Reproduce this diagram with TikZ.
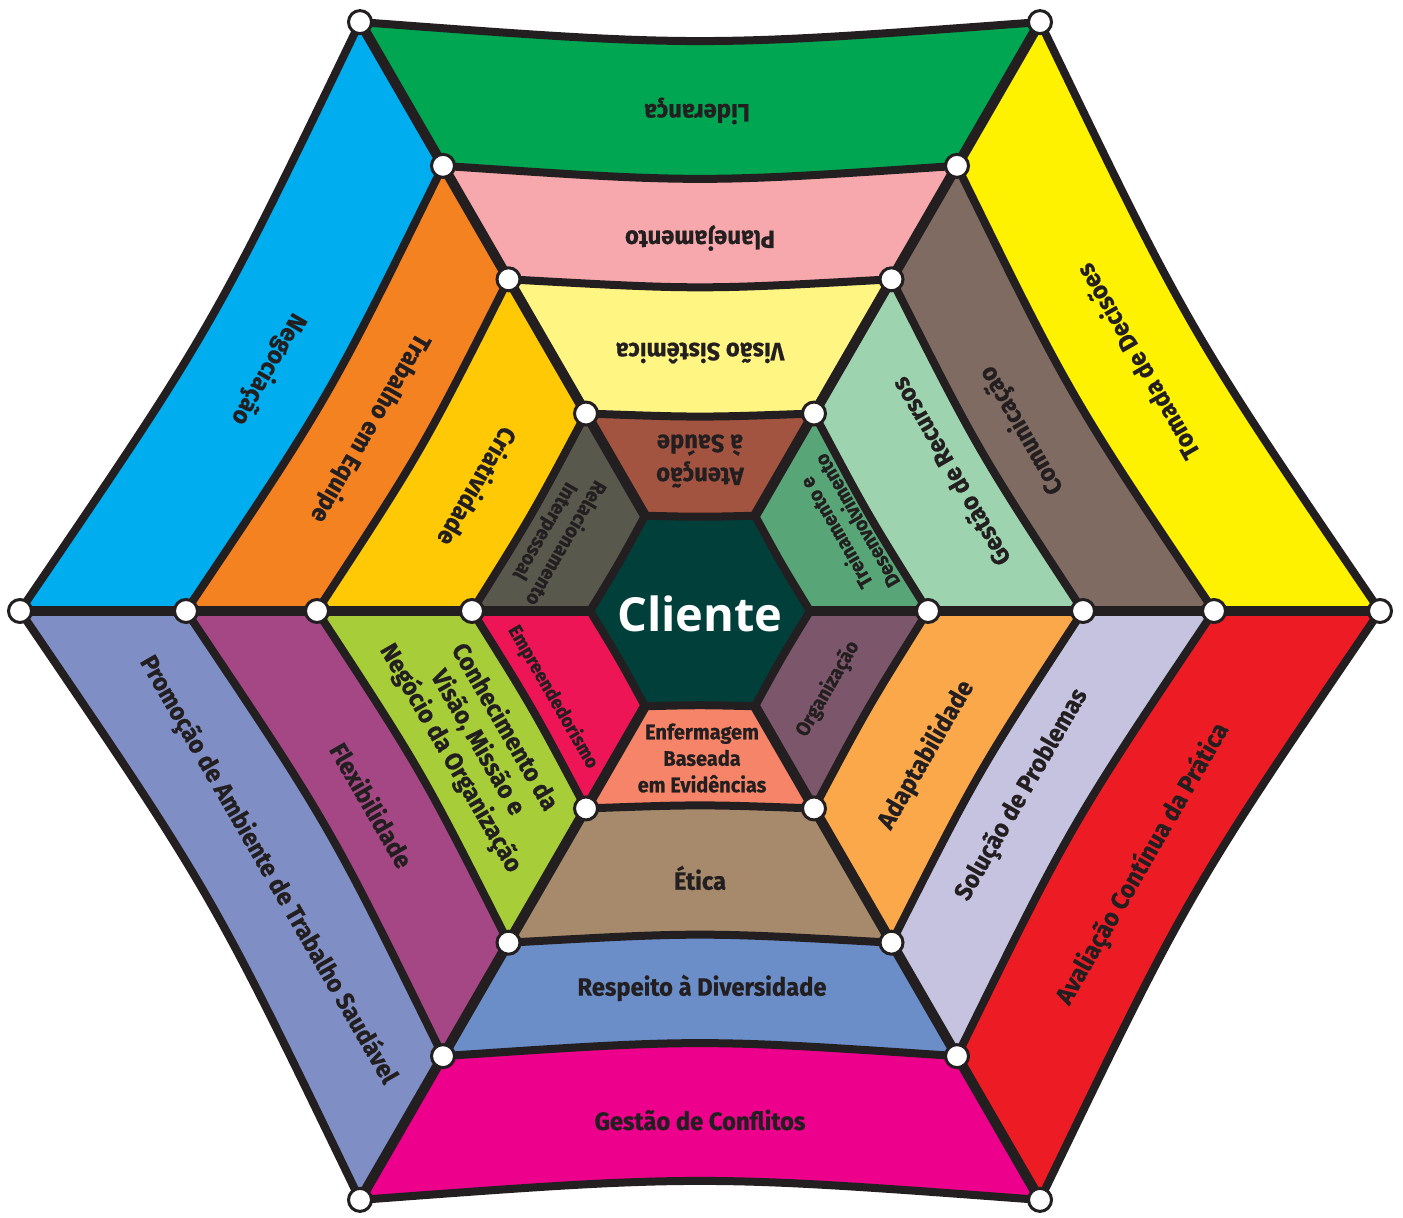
\documentclass[tikz,border=0pt]{standalone}
\usepackage{fontspec}
\setmainfont{Fira Sans}
\newfontfamily\labfont[FakeStretch=0.95,FakeBold=0.6]{Fira Sans}
\newfontfamily\clifont{Open Sans}
\usetikzlibrary{calc}
\definecolor{ink}{HTML}{231F20}
% ring 1 (inner)
\definecolor{col10}{HTML}{58A577}
\definecolor{col11}{HTML}{A35441}
\definecolor{col12}{HTML}{58584D}
\definecolor{col13}{HTML}{EE1556}
\definecolor{col14}{HTML}{F58468}
\definecolor{col15}{HTML}{7C566B}
% ring 2
\definecolor{col20}{HTML}{9DD3AF}
\definecolor{col21}{HTML}{FFF583}
\definecolor{col22}{HTML}{FFCA05}
\definecolor{col23}{HTML}{A7CE39}
\definecolor{col24}{HTML}{A78A6B}
\definecolor{col25}{HTML}{FBA84A}
% ring 3
\definecolor{col30}{HTML}{7F6B62}
\definecolor{col31}{HTML}{F6A8AC}
\definecolor{col32}{HTML}{F58220}
\definecolor{col33}{HTML}{A54785}
\definecolor{col34}{HTML}{6B8DC8}
\definecolor{col35}{HTML}{C6C3E1}
% ring 4 (outer)
\definecolor{col40}{HTML}{FFF200}
\definecolor{col41}{HTML}{00A651}
\definecolor{col42}{HTML}{00AEEF}
\definecolor{col43}{HTML}{7F8EC4}
\definecolor{col44}{HTML}{EC008C}
\definecolor{col45}{HTML}{ED1C24}
\definecolor{clicol}{HTML}{003F3A}
\begin{document}
\begin{tikzpicture}[x=1pt,y=1pt,
  edge/.style={draw=ink,line width=8pt,line join=round},
  spoke/.style={draw=ink,line width=10pt,line cap=round},
  vdot/.style={circle,fill=white,draw=ink,line width=3pt,minimum size=23pt,inner sep=0pt},
  lbl/.style={text=ink,font=\labfont\bfseries\fontsize{25}{31}\selectfont,align=center,inner sep=0pt},
  lblsmall/.style={text=ink,font=\labfont\bfseries\fontsize{20}{24}\selectfont,align=center,inner sep=0pt}]
\useasboundingbox (0,0) rectangle (1403,1218);
\fill[white] (0,0) rectangle (1403,1218);
\begin{scope}[shift={(700,607)}]
  % vertices
  \foreach \i/\R in {0/110,1/228,2/383,3/514,4/680}{
    \foreach \k in {0,...,5}{
      \coordinate (v\i\k) at (60*\k:\R);
    }
  }
  % centre
  \fill[clicol] (0:110) .. controls (30:93.9) .. (60:110) .. controls (90:93.9) .. (120:110)
     .. controls (150:93.9) .. (180:110) .. controls (210:93.9) .. (240:110)
     .. controls (270:93.9) .. (300:110) .. controls (330:93.9) .. (360:110) -- cycle;
  % bands
  \foreach \i/\Rin/\din/\Rout/\dout in {1/110/93.9/228/193.4, 2/228/193.4/383/321.0, 3/383/321.0/514/427.8, 4/514/427.8/680/563.6}{
    \foreach \k in {0,...,5}{
      \pgfmathsetmacro\aa{60*\k}
      \pgfmathsetmacro\bb{60*\k+60}
      \pgfmathsetmacro\mm{60*\k+30}
      \fill[fill=col\i\k] (\aa:\Rout) .. controls (\mm:\dout) .. (\bb:\Rout) -- (\bb:\Rin)
        .. controls (\mm:\din) .. (\aa:\Rin) -- cycle;
    }
  }
  % ring edges
  \foreach \i/\d in {0/93.9,1/193.4,2/321.0,3/427.8,4/563.6}{
    \draw[edge] (v\i0) .. controls (30:\d) .. (v\i1) .. controls (90:\d) .. (v\i2)
      .. controls (150:\d) .. (v\i3) .. controls (210:\d) .. (v\i4)
      .. controls (270:\d) .. (v\i5) .. controls (330:\d) .. (v\i0) -- cycle;
  }
  % spokes
  \foreach \k in {0,...,5}{
    \draw[spoke] (v0\k) -- (v4\k);
  }
  % vertex dots
  \foreach \i in {1,...,4}{
    \foreach \k in {0,...,5}{
      \node[vdot] (d\i\k) at (v\i\k) {};
    }
  }
\end{scope}
% labels: outer ring
\node[lbl,rotate=180] (l41) at (697,1107) {Liderança};
\node[lbl,rotate=120] (l40) at (1137,856) {Tomada de Decisões};
\node[lbl,rotate=240] (l42) at (268,849) {Negociação};
\node[lbl,rotate=-60] (l43) at (268,348) {Promoção de Ambiente de Trabalho Saudável};
\node[lbl] (l44) at (700,98) {Gestão de Conflitos};
\node[lbl,rotate=60] (l45) at (1143,354) {Avaliação Contínua da Prática};
% ring 3
\node[lbl,rotate=180] (l31) at (700,980) {Planejamento};
\node[lbl,rotate=120] (l30) at (1022,788) {Comunicação};
\node[lbl,rotate=240] (l32) at (370,790) {Trabalho em Equipe};
\node[lbl,rotate=-60] (l33) at (372,413) {Flexibilidade};
\node[lbl] (l34) at (702,230) {Respeito à Diversidade};
\node[lbl,rotate=60] (l35) at (1022,423) {Solução de Problemas};
% ring 2
\node[lbl,rotate=180] (l21) at (700,865) {Visão Sistêmica};
\node[lbl,rotate=120] (l20) at (950,746) {Gestão de Recursos};
\node[lbl,rotate=240] (l22) at (478,731) {Criatividade};
\node[lbl,rotate=-60] (l23) at (477,475) {Conhecimento da\\Visão, Missão e\\Negócio da Organização};
\node[lbl] (l24) at (700,340) {Ética};
\node[lbl,rotate=60] (l25) at (926,463) {Adaptabilidade};
% ring 1
\node[lbl,rotate=180,font=\labfont\bfseries\fontsize{25}{33}\selectfont] (l11) at (700,757) {Atenção\\à Saúde};
\node[lblsmall,rotate=120] (l10) at (846,691) {Treinamento e\\Desenvolvimento};
\node[lblsmall,rotate=240] (l12) at (555,681) {Relacionamento\\Interpessoal};
\node[lblsmall,rotate=-60,font=\labfont\bfseries\fontsize{19}{22}\selectfont] (l13) at (553,521) {Empreendedorismo};
\node[lblsmall,rotate=60] (l15) at (828,529) {Organização};
\node[lblsmall,font=\labfont\bfseries\fontsize{21}{26.5}\selectfont] (l14) at (702,460) {Enfermagem\\Baseada\\em Evidências};
% centre
\node[text=white,font=\clifont\bfseries\fontsize{47}{50}\selectfont,inner sep=0pt] (cli) at (700,604) {Cliente};
\end{tikzpicture}
\end{document}
